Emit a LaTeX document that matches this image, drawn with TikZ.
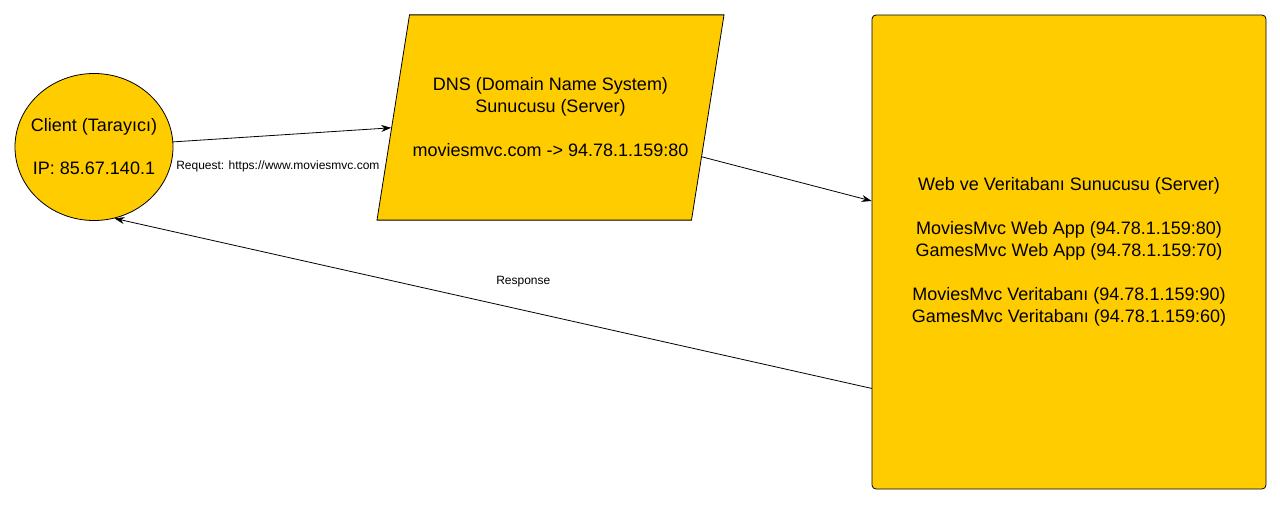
\documentclass[tikz,border=0pt]{standalone}
\usepackage{fontspec}
\setmainfont{Liberation Sans}
\usepackage{tikz}
\usetikzlibrary{arrows.meta,shapes.geometric}
\usepackage{xcolor}
\definecolor{boxyellow}{HTML}{FFCC00}

\begin{document}
\begin{tikzpicture}[x=1pt,y=-1pt,>={Stealth[length=10pt,width=7pt]},line cap=round,
  box/.style={draw=black,fill=boxyellow,line width=0.8pt,align=center,inner sep=0pt,font=\fontsize{18}{22}\selectfont},
  lbl/.style={inner sep=1pt,font=\fontsize{12}{14}\selectfont},
  link/.style={->,line width=0.8pt}]
\useasboundingbox (0,0) rectangle (1280,504);
\node[box,ellipse,inner xsep=-16pt,minimum width=158pt,minimum height=147pt] (client) at (94,147) {Client (Tarayıcı)\\[21pt]IP: 85.67.140.1};
\node[box,trapezium,trapezium left angle=81,trapezium right angle=99,trapezium stretches body=true,inner ysep=63pt,minimum width=347pt] (dns) at (550.5,117.5) {DNS (Domain Name System)\\Sunucusu (Server)\\[22pt]moviesmvc.com -> 94.78.1.159:80};
\node[box,rounded corners=4pt,minimum width=394pt,minimum height=474pt] (server) at (1069,252) {Web ve Veritabanı Sunucusu (Server)\\[22pt]MoviesMvc Web App (94.78.1.159:80)\\GamesMvc Web App (94.78.1.159:70)\\[22pt]MoviesMvc Veritabanı (94.78.1.159:90)\\GamesMvc Veritabanı (94.78.1.159:60)};
\draw[link] (client) -- (dns) node[lbl,pos=0.48,below=24pt] {Request: https://www.moviesmvc.com};
\draw[link] (dns) -- (server);
\draw[link] ([yshift=101pt]server.south west) -- (client.-74) node[lbl,pos=0.46,above=22pt] {Response};
\end{tikzpicture}
\end{document}
